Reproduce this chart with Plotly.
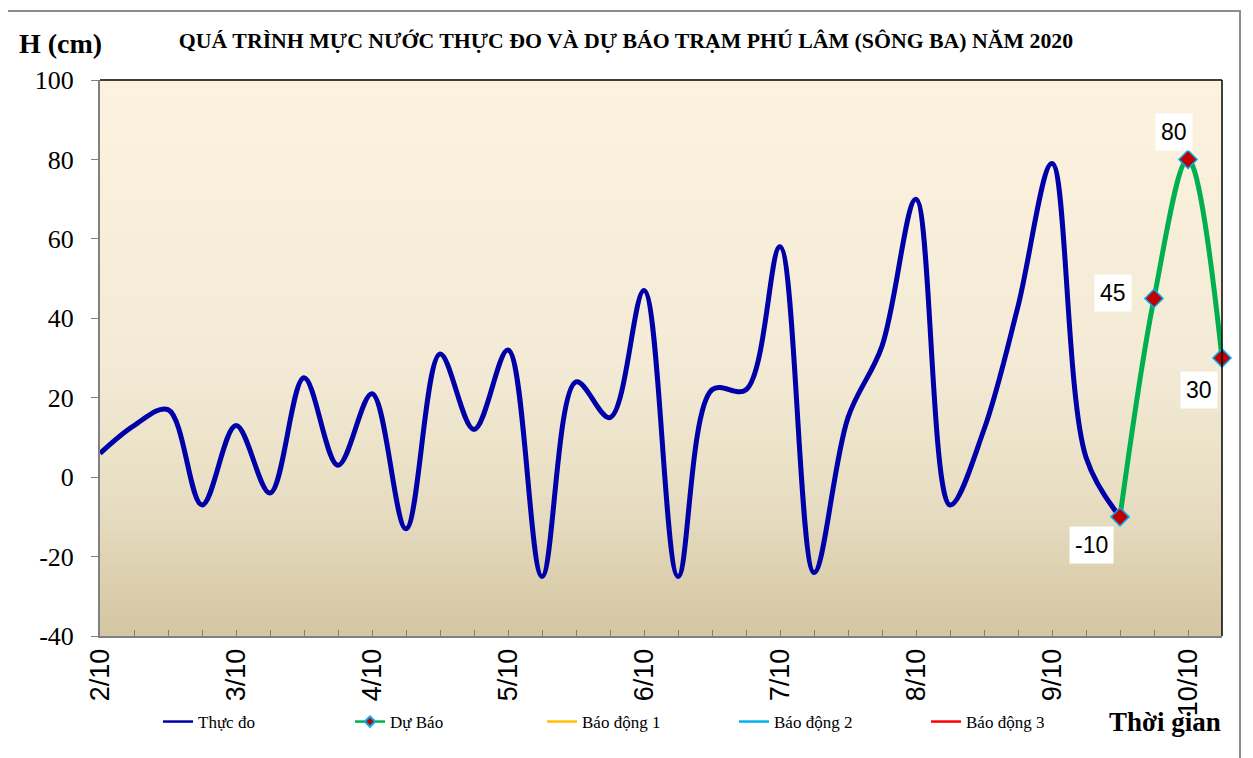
import pandas as pd
import plotly.graph_objects as go

# ---- data ----
times = pd.date_range("2020-10-02 00:00", periods=34, freq="6h").strftime("%Y-%m-%d %H:%M").tolist()
measured = [6, 13, 17, -7, 13, -4, 25, 3, 21, -13, 31, 12, 32, -25, 24, 15, 47,
            -25, 22, 22, 58, -24, 15, 33, 70, -7, 12, 43, 79, 5, -10]
forecast = [-10, 45, 80, 30]
forecast_times = times[30:34]
alarm1 = [None]
alarm2 = [None]
alarm3 = [None]
y_ticks = [-40, -20, 0, 20, 40, 60, 80, 100]
y_tick_text = [str(v) for v in y_ticks]

# the page body adds an 8px margin, so the figure is sized/positioned to compensate
OFF = 8
W, H = 1253 - OFF, 758 - OFF
PL, PT, PR, PB = 100, 80, 1222, 636          # plot area in page pixels
L, T = PL - OFF, PT - OFF
R, B = W - (PR - OFF), H - (PB - OFF)
pw, ph = W - L - R, H - T - B

SERIF = "Liberation Serif, Times New Roman, serif"
SANS = "Liberation Sans, Arial, sans-serif"

def px2paper_x(px):
    return (px - PL) / pw

def px2paper_y(py):
    return (PB - py) / ph

fig = go.Figure()

fig.add_trace(go.Scatter(
    x=times[:len(measured)], y=measured, mode="lines", name="Thực đo", showlegend=False,
    line=dict(color="#0000A8", width=5, shape="spline", smoothing=1.0),
))
fig.add_trace(go.Scatter(
    x=forecast_times, y=forecast, mode="lines+markers", name="Dự Báo", showlegend=False,
    cliponaxis=False,
    line=dict(color="#00B050", width=5, shape="spline", smoothing=1.0),
    marker=dict(symbol="diamond", size=14, color="#C00000",
                line=dict(color="#00B0F0", width=1.5)),
))
# legend-only entries (thin lines as in the original legend)
fig.add_trace(go.Scatter(x=[times[0]], y=[None], mode="lines", name="Thực đo",
                         line=dict(color="#0000A8", width=2.5)))
fig.add_trace(go.Scatter(x=[times[0]], y=[None], mode="lines+markers", name="Dự Báo",
                         line=dict(color="#00B050", width=2.5),
                         marker=dict(symbol="diamond", size=8, color="#C00000",
                                     line=dict(color="#00B0F0", width=2))))
for nm, vals, col in [("Báo động 1", alarm1, "#FFC000"),
                      ("Báo động 2", alarm2, "#00B0F0"),
                      ("Báo động 3", alarm3, "#FF0000")]:
    fig.add_trace(go.Scatter(x=[times[0]], y=vals, mode="lines", name=nm,
                             line=dict(color=col, width=2.5)))

# data labels for forecast
label_shift = [(-29, -28), (-41, 5), (-14, 27), (-23, -32)]
for xv, yv, (dx, dy) in zip(forecast_times, forecast, label_shift):
    fig.add_annotation(x=xv, y=yv, text=str(yv), showarrow=False,
                       xshift=dx, yshift=dy, bgcolor="white",
                       font=dict(family=SANS, size=23, color="black"),
                       borderpad=5)

# gradient background bands
stops = [(0.0, (253, 242, 222)), (0.5, (243, 235, 214)), (0.75, (232, 222, 195)), (1.0, (212, 198, 162))]

def col_at(f):
    for (f0, c0), (f1, c1) in zip(stops[:-1], stops[1:]):
        if f0 <= f <= f1:
            t = (f - f0) / (f1 - f0)
            return "rgb(%d,%d,%d)" % tuple(round(a + (b - a) * t) for a, b in zip(c0, c1))
    return "rgb(%d,%d,%d)" % stops[-1][1]

N = 80
for i in range(N):
    f_top = i / N
    f_bot = (i + 1) / N
    fig.add_shape(type="rect", xref="x domain", yref="y domain",
                  x0=0, x1=1, y0=1 - f_bot, y1=1 - f_top + 0.001,
                  fillcolor=col_at((f_top + f_bot) / 2), line=dict(width=0),
                  layer="below")

# plot frame top/right
fig.add_shape(type="line", xref="paper", yref="paper", x0=0, x1=1, y0=1, y1=1,
              line=dict(color="black", width=1.5))
fig.add_shape(type="line", xref="paper", yref="paper", x0=1, x1=1, y0=0, y1=1,
              line=dict(color="black", width=1.5))
# outer chart border
fig.add_shape(type="rect", xref="paper", yref="paper",
              x0=px2paper_x(5), x1=px2paper_x(1240), y0=px2paper_y(780), y1=px2paper_y(11),
              line=dict(color="#8C8C8C", width=2), fillcolor="rgba(0,0,0,0)")

fig.add_annotation(xref="paper", yref="paper", x=px2paper_x(60), y=px2paper_y(44),
                   text="<b>H (cm)</b>", showarrow=False, xanchor="center", yanchor="middle",
                   font=dict(family=SERIF, size=28, color="black"))
fig.add_annotation(xref="paper", yref="paper", x=px2paper_x(1165), y=px2paper_y(722),
                   text="<b>Thời gian</b>", showarrow=False, xanchor="center", yanchor="middle",
                   font=dict(family=SERIF, size=27, color="black"))

fig.update_layout(
    width=W, height=H,
    margin=dict(l=L, r=R, t=T, b=B, autoexpand=False),
    paper_bgcolor="white", plot_bgcolor="rgba(0,0,0,0)",
    title=dict(text="<b>QUÁ TRÌNH MỰC NƯỚC THỰC ĐO VÀ DỰ BÁO TRẠM PHÚ LÂM (SÔNG BA) NĂM 2020</b>",
               x=(626 - OFF) / W, xref="container", xanchor="center",
               y=1 - (40 - OFF) / H, yanchor="middle",
               font=dict(family=SERIF, size=21.8, color="black")),
    showlegend=True,
    legend=dict(orientation="h", x=px2paper_x(158), y=px2paper_y(722), xanchor="left", yanchor="middle",
                font=dict(family=SERIF, size=17, color="black"),
                entrywidth=147, entrywidthmode="pixels", bgcolor="rgba(0,0,0,0)"),
    xaxis=dict(type="date", range=[times[0], times[-1]], automargin=False,
               tick0=times[0], dtick=86400000, tickformat="%-d/%m",
               tickangle=-90, ticks="inside", ticklen=6, tickcolor="#808080",
               minor=dict(dtick=6 * 3600000, ticks="inside", ticklen=6, tickcolor="#808080"),
               showline=True, linecolor="#808080", linewidth=2, showgrid=False, zeroline=False,
               tickfont=dict(family=SANS, size=27, color="black")),
    yaxis=dict(range=[-40, 100], tickvals=y_ticks, ticktext=y_tick_text, automargin=False,
               ticks="outside", ticklen=7, tickcolor="#808080",
               showline=True, linecolor="#808080", linewidth=2, showgrid=False, zeroline=False,
               ticklabelstandoff=12,
               tickfont=dict(family=SERIF, size=26, color="black")),
)

fig.write_html("out.html")
